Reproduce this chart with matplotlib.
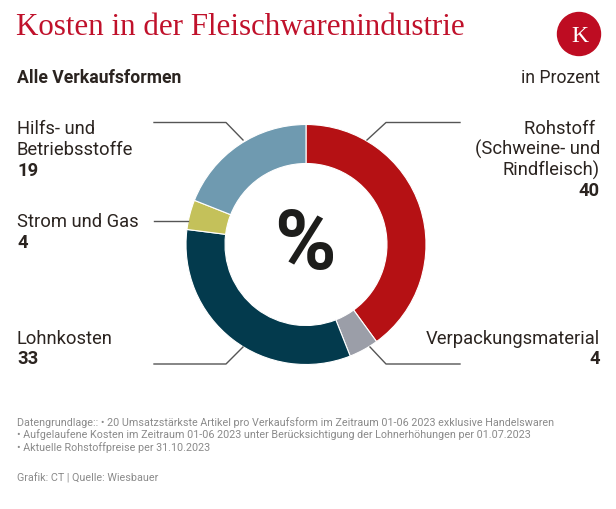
import matplotlib.pyplot as plt
from matplotlib.patches import Circle

labels = ["Rohstoff \n(Schweine- und\nRindfleisch)", "Verpackungsmaterial",
          "Lohnkosten", "Strom und Gas", "Hilfs- und\nBetriebsstoffe"]
values = [40, 4, 33, 4, 19]
colors = ["#b51114", "#9b9ea8", "#033a4d", "#c4c15a", "#6f9ab0"]

title_red = "#c0112b"
txt = "#2b2420"
grey = "#8a8a8a"

W, H = 616, 509
fig = plt.figure(figsize=(W / 100, H / 100), dpi=100)

# donut in its own square axes (240 px wide, centre at 306/244)
cx, cy, R = 306, 244.5, 120
pax = fig.add_axes([(cx - R) / W, (H - cy - R) / H, 2 * R / W, 2 * R / H])
pax.pie(values, colors=colors, startangle=90, counterclock=False,
        radius=1, wedgeprops=dict(width=0.325, edgecolor="white", linewidth=0.8))
pax.set_xlim(-1, 1)
pax.set_ylim(-1, 1)
pax.set_aspect("auto")
pax.axis("off")

# overlay in pixel coordinates
ax = fig.add_axes([0, 0, 1, 1])
ax.set_xlim(0, W)
ax.set_ylim(H, 0)
ax.axis("off")

ax.text(cx - 1, cy + 2, "%", fontsize=60, fontweight="bold", family="Roboto",
        color="#1d1d1b", ha="center", va="center")

ax.text(16.5, 35, "Kosten in der Fleischwarenindustrie", family="Liberation Serif",
        fontsize=22.3, color=title_red, va="baseline")
ax.text(17, 83, "Alle Verkaufsformen", family="Roboto", fontweight="bold",
        fontsize=12.7, color=txt, va="baseline")
ax.text(600, 83, "in Prozent", family="Roboto", fontsize=12.7, color=txt,
        ha="right", va="baseline")

ax.add_patch(Circle((579, 34), 21.5, color="#be0c22"))
ax.text(579.5, 41.5, "K", family="Liberation Serif", fontsize=17, color="white",
        ha="center", va="baseline")

# leader lines
lc = "#555555"
legs = [
    ([367, 386, 460], [140, 122.5, 122.5]),
    ([370, 386, 460], [347, 364, 364]),
    ([243, 226, 154], [347, 364, 364]),
    ([188, 154], [220.5, 220.5]),
    ([243, 226, 154], [140, 122.5, 122.5]),
]
for xs, ys in legs:
    ax.plot(xs, ys, color=lc, lw=1)

# labels: (x, first baseline, alignment)
spots = [(600, 133.5, "right"), (600, 343.5, "right"), (17, 343.5, "left"),
         (17, 227, "left"), (17, 134, "left")]
fs = 13.2
lh = 21
for lab, val, (x, y, ha) in zip(labels, values, spots):
    lines = lab.split("\n")
    for i, ln in enumerate(lines):
        ax.text(x, y + i * lh, ln, family="Roboto", fontsize=fs, color=txt,
                ha=ha, va="baseline")
    ax.text(x, y + len(lines) * lh, str(val), family="Roboto", fontweight="bold",
            fontsize=fs, color=txt, ha=ha, va="baseline")

notes = ["Datengrundlage:: \u2022 20 Umsatzst\u00e4rkste Artikel pro Verkaufsform im Zeitraum 01-06 2023 exklusive Handelswaren",
         "\u2022 Aufgelaufene Kosten im Zeitraum 01-06 2023 unter Ber\u00fccksichtigung der Lohnerh\u00f6hungen per 01.07.2023",
         "\u2022 Aktuelle Rohstoffpreise per 31.10.2023"]
for i, n in enumerate(notes):
    ax.text(17, 425.5 + i * 12.8, n, family="Roboto", fontsize=7.75, color=grey,
            va="baseline")
ax.text(17, 481.5, "Grafik: CT | Quelle: Wiesbauer", family="Roboto", fontsize=7.75,
        color=grey, va="baseline")

fig.savefig("out.png", dpi=100, facecolor="white")
